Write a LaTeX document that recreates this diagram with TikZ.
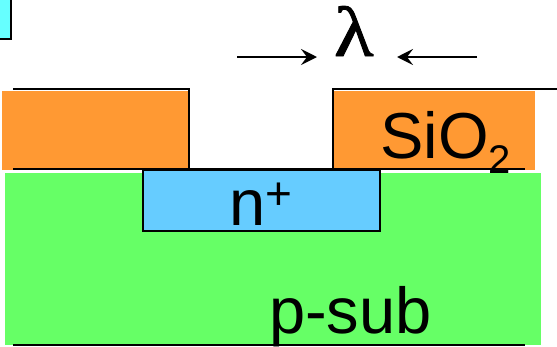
\documentclass[tikz,border=0pt]{standalone}
\usepackage{graphicx}
\usepackage{fontspec}
\setmainfont{Liberation Sans}
\newfontfamily\lamfont[FakeBold=1.2]{Liberation Serif}
\usetikzlibrary{arrows.meta}
\definecolor{oxide}{HTML}{FF9933}
\definecolor{sub}{HTML}{66FF66}
\definecolor{nplus}{HTML}{66CCFF}
\definecolor{corner}{HTML}{66FFFF}
\tikzset{
  fillblock/.style={fill=#1,draw=none},
  outl/.style={line width=2.5pt,black,line cap=butt},
  lab/.style={anchor=base west,inner sep=0pt,outer sep=0pt,text=black},
  dim/.style={line width=2.4pt,-{Stealth[length=16pt,width=16pt,inset=6pt]}}
}
\begin{document}
\begin{tikzpicture}[x=1pt,y=-1pt]
\useasboundingbox (0,0) rectangle (557,346);
\fill[white] (0,0) rectangle (557,346);
% corner block
\filldraw[fill=corner,draw=black,line width=2.6pt] (-5,-5) rectangle (11,39);
% substrate and oxide
\fill[fillblock=sub] (5,173) rectangle (541,345);
\fill[fillblock=oxide] (2,91) rectangle (189,170);
\fill[fillblock=oxide] (333,91) rectangle (535,170);
% oxide outlines
\draw[outl] (13,89) -- (189,89) -- (189,169) (13,169) -- (525,169);
\draw[outl] (557,89) -- (333,89) -- (333,169);
\draw[outl] (13,345) -- (525,345);
% n+ block
\node[draw=black,fill=nplus,line width=2.5pt,minimum width=237pt,minimum height=61.5pt,inner sep=0pt,outer sep=0pt,anchor=north west] (nwell) at (143,169.5) {};
% labels
\node[lab,font=\fontsize{65}{65}\selectfont] (oxlab) at (380.5,158) {SiO};
\node[lab,font=\fontsize{40}{40}\selectfont] (oxsub) at (488,173) {2};
\node[lab,font=\fontsize{65}{65}\selectfont] (nlab) at (229.5,225) {n};
\node[lab,font=\fontsize{46}{46}\selectfont] (plus) at (265.5,209.5) {+};
\node[lab,font=\fontsize{65}{65}\selectfont] (plab) at (269,333) {p-sub};
\node[lab,font=\fontsize{71}{71}\lamfont] (lam) at (334,56) {\scalebox{1.15}[1]{λ}};
% dimension arrows
\coordinate (la) at (237,57);
\coordinate (lb) at (317,57);
\coordinate (ra) at (477,57);
\coordinate (rb) at (397,57);
\draw[dim] (la) -- (lb);
\draw[dim] (ra) -- (rb);
\end{tikzpicture}
\end{document}
